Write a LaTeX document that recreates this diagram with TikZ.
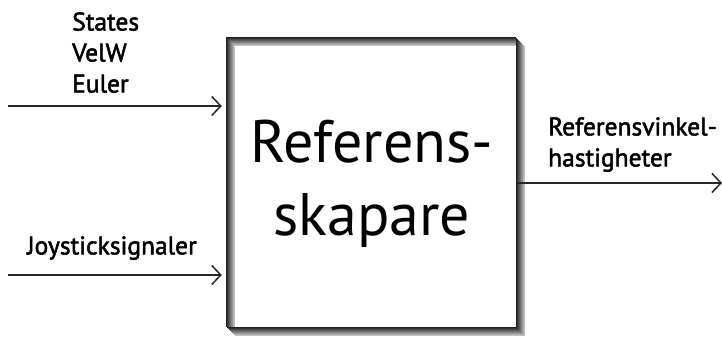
\documentclass[tikz,border=0pt]{standalone}
\usepackage{fontspec}
\setmainfont{PT Sans}
\newfontfamily\lblfont{PT Sans}[BoldFont=PT Sans,BoldFeatures={FakeBold=2}]
\usetikzlibrary{arrows.meta,calc}
\begin{document}
\begin{tikzpicture}[x=1pt,y=1pt,
  sig/.style={line width=1.5pt,draw=black!85,-{Straight Barb[length=9pt,width=19pt,line width=1.5pt]}},
  lbl/.style={font=\lblfont\bfseries\fontsize{25.5}{31}\selectfont,text=black,inner sep=0pt,align=left},
  blockbox/.style={fill=white,minimum width=290pt,minimum height=290pt,inner sep=0pt}]
\useasboundingbox (0,0) rectangle (722,337);
% central block with shaded frame
\node[blockbox] (blk) at (371,155) {};
\foreach \i in {0,...,8} {
  \pgfmathsetmacro\shade{88-8*\i}
  % left and top: dark outside, fading inwards
  \draw[black!\shade,line width=1.1pt]
    ($(blk.south west)+(\i+0.5,0)$) -- ($(blk.north west)+(\i+0.5,-\i-0.5)$) -- ($(blk.north east)+(0,-\i-0.5)$);
  % right and bottom: dark inside, fading outwards
  \draw[black!\shade,line width=1.1pt]
    ($(blk.north east)+(\i+0.5,-\i-1)$) -- ($(blk.south east)+(\i+0.5,-\i-0.5)$) -- ($(blk.south west)+(\i+1,-\i-0.5)$);
}
\node[font=\fontsize{60}{73}\selectfont,align=center,inner sep=0pt] (title) at (372,153) {Referens-\\skapare};
% inputs and output
\coordinate (in1) at (8,231);
\coordinate (in2) at (8,62);
\coordinate (out) at (722,154);
\draw[sig] (in1) -- ($(in1 -| blk.west)+(-4,0)$);
\draw[sig] (in2) -- ($(in2 -| blk.west)+(-4,0)$);
\draw[sig] (out -| blk.east) -- (out);
% labels
\node[lbl,anchor=south west] (l1) at (72,244) {States\\VelW\\Euler};
\node[lbl,anchor=south west] (l2) at (27,77) {Joysticksignaler};
\node[lbl,anchor=south west] (l3) at (548,165) {Referensvinkel-\\hastigheter};
\end{tikzpicture}
\end{document}
